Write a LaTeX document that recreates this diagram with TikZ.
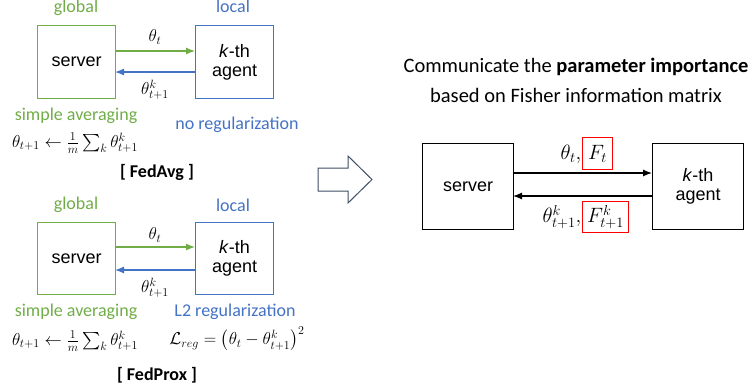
\documentclass[tikz,border=0pt]{standalone}
\usepackage{fontspec}
\usepackage{amsmath}
\setmainfont{Carlito}
\newfontfamily\arialfont{Liberation Sans}
\usetikzlibrary{arrows.meta}
\definecolor{fgreen}{HTML}{70AD47}
\definecolor{fblue}{HTML}{4472C4}
\definecolor{slate}{HTML}{3E4F66}
\definecolor{fred}{HTML}{FF0000}
\tikzset{
  box/.style={draw, line width=1.2pt, inner sep=0pt, anchor=north west},
  boxtxt/.style={font=\arialfont\fontsize{18}{21}\selectfont, align=center},
  lbl/.style={font=\fontsize{18}{20}\selectfont, inner sep=0pt},
  mth/.style={font=\fontsize{16.5}{18}\selectfont, inner sep=0pt},
  bigmth/.style={font=\fontsize{20.5}{22}\selectfont, inner sep=0pt},
  head/.style={font=\fontsize{20.5}{24}\selectfont, inner sep=0pt},
  link/.style={line width=1.2pt, -{Latex[length=9pt,width=7pt]}},
  hl/.style={draw=fred, line width=1.2pt, inner sep=0pt, anchor=north west},
}
\begin{document}
\begin{tikzpicture}[x=1pt,y=-1pt]
\useasboundingbox (0,0) rectangle (752,389);

% ---------- FedAvg ----------
\node[box, draw=fgreen, minimum width=78pt, minimum height=73pt] (s1) at (37,25) {};
\node[box, draw=fblue, minimum width=78pt, minimum height=73pt] (a1) at (195,25) {};
\node[boxtxt] at (s1.center) {server};
\node[boxtxt] at (a1.center) {\textit{k}-th\\[-2pt]agent};
\node[lbl, text=fgreen, anchor=base] (g1) at (76,12) {global};
\node[lbl, text=fblue, anchor=base] (l1) at (233,12) {local};
\coordinate (s1u) at (115,51); \coordinate (a1u) at (195,51);
\coordinate (s1d) at (115,72); \coordinate (a1d) at (195,72);
\draw[link, fgreen] (s1u) -- (a1u);
\draw[link, fblue] (a1d) -- (s1d);
\node[mth] (t1) at (155,37) {$\theta_t$};
\node[mth] (t1k) at (155,90) {$\theta^k_{t+1}$};
\node[lbl, text=fgreen] (sa1) at (76,116) {simple averaging};
\node[mth] (f1) at (75,143) {$\theta_{t+1} \leftarrow \frac{1}{m}\sum_k \theta^k_{t+1}$};
\node[lbl, text=fblue] (nr1) at (237,125) {no regularization};
\node[lbl] (n1) at (157,172) {\textbf{[ FedAvg ]}};

% ---------- FedProx ----------
\node[box, draw=fgreen, minimum width=78pt, minimum height=72pt] (s2) at (37,222) {};
\node[box, draw=fblue, minimum width=78pt, minimum height=72pt] (a2) at (195,222) {};
\node[boxtxt] at (s2.center) {server};
\node[boxtxt] at (a2.center) {\textit{k}-th\\[-2pt]agent};
\node[lbl, text=fgreen] (g2) at (76,205) {global};
\node[lbl, text=fblue] (l2) at (233,205) {local};
\coordinate (s2u) at (115,247); \coordinate (a2u) at (195,247);
\coordinate (s2d) at (115,270); \coordinate (a2d) at (195,270);
\draw[link, fgreen] (s2u) -- (a2u);
\draw[link, fblue] (a2d) -- (s2d);
\node[mth] (t2) at (155,235) {$\theta_t$};
\node[mth] (t2k) at (155,288) {$\theta^k_{t+1}$};
\node[lbl, text=fgreen] (sa2) at (76,312) {simple averaging};
\node[mth] (f2) at (75,341) {$\theta_{t+1} \leftarrow \frac{1}{m}\sum_k \theta^k_{t+1}$};
\node[lbl, text=fblue] (nr2) at (235,312) {L2 regularization};
\node[mth] (f3) at (237,339) {$\mathcal{L}_{reg} = \big(\theta_t - \theta^k_{t+1}\big)^2$};
\node[lbl] (n2) at (157,375) {\textbf{[ FedProx ]}};

% ---------- hollow block arrow ----------
\draw[slate, line width=1pt, line join=miter]
  (318,168) -- (348,168) -- (348,156) -- (372,179.5) -- (348,203) -- (348,191) -- (318,191) -- cycle;

% ---------- proposed scheme ----------
\node[head] (h1) at (576,67) {Communicate the \textbf{parameter importance}};
\node[head] (h2) at (576,95) {based on Fisher information matrix};
\node[box, minimum width=91pt, minimum height=86pt] (s3) at (422,143) {};
\node[box, minimum width=91pt, minimum height=86pt] (a3) at (652,143) {};
\node[boxtxt] at (s3.center) {server};
\node[boxtxt] at (a3.center) {\textit{k}-th\\[-2pt]agent};
\coordinate (s3u) at (513,173); \coordinate (a3u) at (652,173);
\coordinate (s3d) at (513,196); \coordinate (a3d) at (652,196);
\draw[link] (s3u) -- (a3u);
\draw[link] (a3d) -- (s3d);
\node[hl, minimum width=30pt, minimum height=32pt] (r1) at (582,137) {};
\node[bigmth] (ft) at (r1.center) {$F_t$};
\node[bigmth, anchor=base east] (t3) at ([xshift=-0.5pt]r1.west |- ft.base) {$\theta_t,$};
\node[hl, minimum width=46pt, minimum height=31pt] (r2) at (582,201) {};
\node[bigmth] (fk) at (r2.center) {$F^k_{t+1}$};
\node[bigmth, anchor=base east] (t3k) at ([xshift=-0.5pt]r2.west |- fk.base) {$\theta^k_{t+1},$};
\end{tikzpicture}
\end{document}
